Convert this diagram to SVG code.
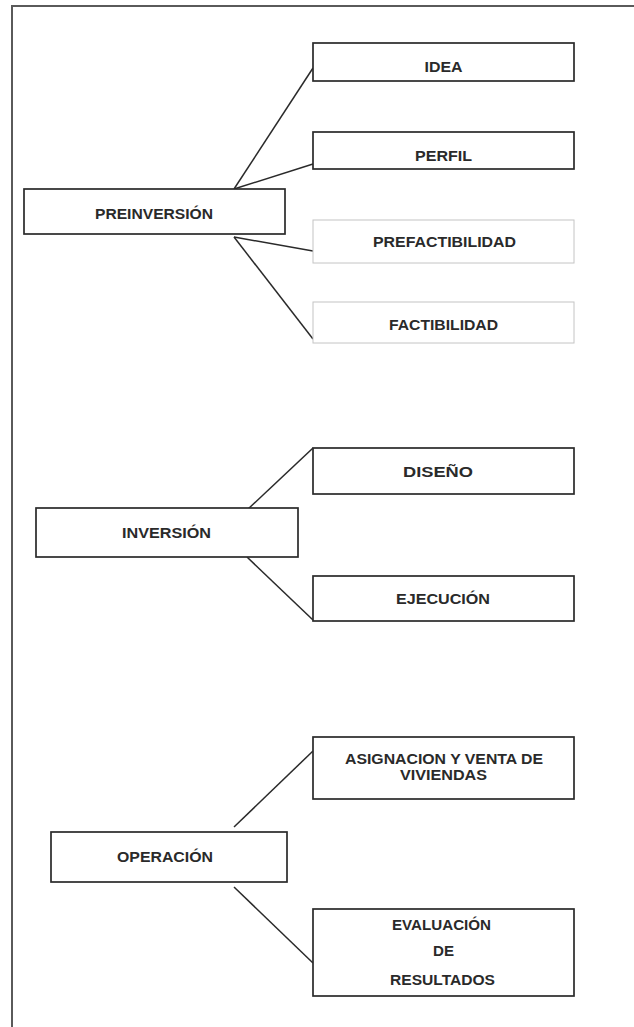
<svg xmlns="http://www.w3.org/2000/svg" width="634" height="1027" viewBox="0 0 634 1027">
<style>
.box{fill:#fff;stroke:#2a2a2a;stroke-width:1.7}
.lbox{fill:#fff;stroke:#c4c4c4;stroke-width:1}
.t{font-family:"Liberation Sans",Arial,sans-serif;font-size:14.5px;font-weight:bold;fill:#2a2a2a;text-anchor:middle}
.c{stroke:#2a2a2a;stroke-width:1.5;fill:none}
.frame{stroke:#5a5a5a;stroke-width:2;fill:none}
</style>
<rect width="634" height="1027" fill="#fff"/>
<path class="frame" d="M12 1027 V6 H634"/>
<g id="connectors">
<line class="c" x1="234" y1="189" x2="313" y2="68"/>
<line class="c" x1="234" y1="189" x2="313" y2="164"/>
<line class="c" x1="234" y1="237" x2="313" y2="251"/>
<line class="c" x1="234" y1="237" x2="313" y2="339"/>
<line class="c" x1="247" y1="510" x2="313" y2="448"/>
<line class="c" x1="247" y1="557" x2="313" y2="620"/>
<line class="c" x1="234" y1="827" x2="313" y2="751"/>
<line class="c" x1="234" y1="887" x2="313" y2="963"/>
</g>
<g id="idea"><rect class="box" x="313" y="43" width="261" height="38"/><text class="t" x="443.5" y="72" textLength="38" lengthAdjust="spacingAndGlyphs">IDEA</text></g>
<g id="perfil"><rect class="box" x="313" y="132" width="261" height="37"/><text class="t" x="443.5" y="161" textLength="57" lengthAdjust="spacingAndGlyphs">PERFIL</text></g>
<g id="preinversion"><rect class="box" x="24" y="189" width="261" height="45"/><text class="t" x="154" y="219" textLength="118" lengthAdjust="spacingAndGlyphs">PREINVERSIÓN</text></g>
<g id="prefactibilidad"><rect class="lbox" x="313" y="220" width="261" height="43"/><text class="t" x="444.5" y="247" textLength="143" lengthAdjust="spacingAndGlyphs">PREFACTIBILIDAD</text></g>
<g id="factibilidad"><rect class="lbox" x="313" y="302" width="261" height="41"/><text class="t" x="443.5" y="330" textLength="109" lengthAdjust="spacingAndGlyphs">FACTIBILIDAD</text></g>
<g id="diseno"><rect class="box" x="313" y="448" width="261" height="46"/><text class="t" x="438" y="477" textLength="70" lengthAdjust="spacingAndGlyphs">DISEÑO</text></g>
<g id="inversion"><rect class="box" x="36" y="508" width="262" height="49"/><text class="t" x="166.5" y="538" textLength="89" lengthAdjust="spacingAndGlyphs">INVERSIÓN</text></g>
<g id="ejecucion"><rect class="box" x="313" y="576" width="261" height="45"/><text class="t" x="443" y="604" textLength="94" lengthAdjust="spacingAndGlyphs">EJECUCIÓN</text></g>
<g id="asignacion"><rect class="box" x="313" y="737" width="261" height="62"/><text class="t" x="444" y="764" textLength="198" lengthAdjust="spacingAndGlyphs">ASIGNACION Y VENTA DE</text><text class="t" x="443.5" y="780" textLength="87" lengthAdjust="spacingAndGlyphs">VIVIENDAS</text></g>
<g id="operacion"><rect class="box" x="51" y="832" width="236" height="50"/><text class="t" x="165" y="862" textLength="96" lengthAdjust="spacingAndGlyphs">OPERACIÓN</text></g>
<g id="evaluacion"><rect class="box" x="313" y="909" width="261" height="87"/><text class="t" x="441.5" y="930" textLength="99" lengthAdjust="spacingAndGlyphs">EVALUACIÓN</text><text class="t" x="443.5" y="956" textLength="21" lengthAdjust="spacingAndGlyphs">DE</text><text class="t" x="442.5" y="985" textLength="105" lengthAdjust="spacingAndGlyphs">RESULTADOS</text></g>
</svg>
